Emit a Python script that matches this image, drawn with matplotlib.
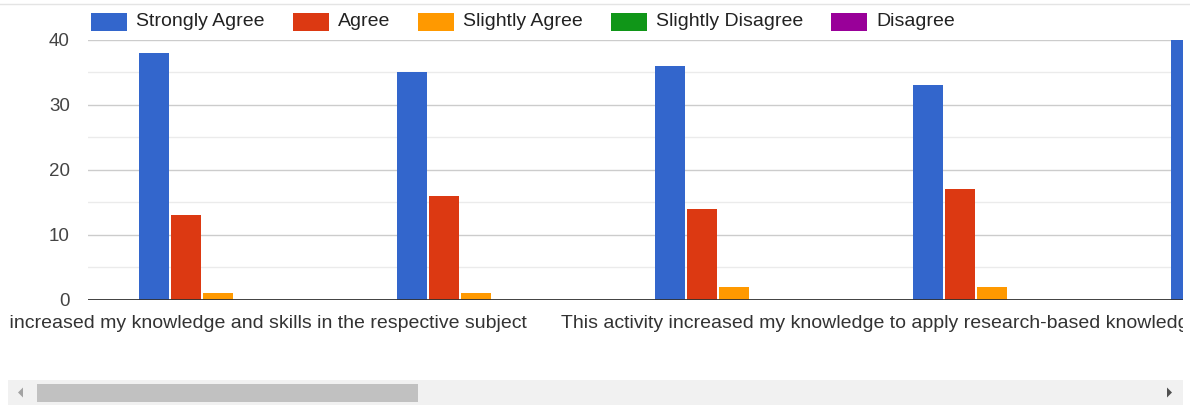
"""Survey responses per statement, grouped bar chart in a scrolled chart frame."""

import numpy as np
import matplotlib

matplotlib.use("Agg")
import matplotlib.pyplot as plt
from matplotlib.patches import Polygon, Rectangle
from matplotlib.transforms import Bbox, TransformedBbox

plt.rcParams["font.family"] = ["Liberation Sans", "DejaVu Sans"]

series = ["Strongly Agree", "Agree", "Slightly Agree", "Slightly Disagree", "Disagree"]
colors = ["#3366cc", "#dc3912", "#ff9900", "#109618", "#990099"]

# responses per statement (the fifth statement is mostly scrolled out of view)
strongly_agree = [38, 35, 36, 33, 40]
agree = [13, 16, 14, 17, np.nan]
slightly_agree = [1, 1, 2, 2, np.nan]
slightly_disagree = [0, 0, 0, 0, np.nan]
disagree = [0, 0, 0, 0, np.nan]
values = [strongly_agree, agree, slightly_agree, slightly_disagree, disagree]

statements = [
    "This activity increased my knowledge and skills in the respective subject",
    "",
    "This activity increased my knowledge to apply research-based knowledge in teaching",
    "",
    "",
]

W, H = 1190, 407
fig = plt.figure(figsize=(W / 100, H / 100), dpi=100)

# plot area in pixel terms
left, right, top, bottom = 88, 1183, 39.5, 299.5
ax = fig.add_axes([left / W, (H - bottom) / H, (right - left) / W, (bottom - top) / H])

step = 0.124
bar_w = 0.116
x = np.arange(len(strongly_agree))
for k, (vals, c) in enumerate(zip(values, colors)):
    ax.bar(x + (k - 2) * step, vals, width=bar_w, color=c, linewidth=0, zorder=2)

ax.set_xlim(-0.504, 3.740)
ax.set_ylim(0, 40)
ax.set_yticks([0, 10, 20, 30, 40])
ax.set_yticks([5, 15, 25, 35], minor=True)
ax.grid(axis="y", which="major", color="#cccccc", linewidth=1, zorder=0)
ax.grid(axis="y", which="minor", color="#ebebeb", linewidth=1, zorder=0)
ax.set_axisbelow(True)
ax.axhline(0, color="#333333", linewidth=1.3, zorder=3)
ax.set_xticks([])
ax.tick_params(axis="y", which="both", length=0, pad=13, labelsize=13.5, labelcolor="#444444")
for sp in ax.spines.values():
    sp.set_visible(False)

# overlay in pixel coordinates for legend, category labels and scrollbar
ov = fig.add_axes([0, 0, 1, 1])
ov.set_xlim(0, W)
ov.set_ylim(H, 0)
ov.axis("off")
ov.patch.set_visible(False)

ov.plot([0, W], [4, 4], color="#e4e4e4", linewidth=1)

# legend
renderer = fig.canvas.get_renderer()
lx = 91
for name, c in zip(series, colors):
    ov.add_patch(Rectangle((lx, 13), 36, 18, facecolor=c, edgecolor="none"))
    t = ov.text(lx + 45, 22, name, fontsize=14, color="#222222", va="center", ha="left")
    tw = t.get_window_extent(renderer).width
    lx += 45 + tw + 28

# category labels, clipped to the scrolling frame
clip = TransformedBbox(Bbox.from_extents(8, 0, right, H), fig.dpi_scale_trans.frozen().scale(0.01))
label_y = 323
t0 = ov.text(527, label_y, statements[0], fontsize=14, color="#333333", ha="right", va="center")
t2 = ov.text(561, label_y, statements[2], fontsize=14, color="#333333", ha="left", va="center")
for t in (t0, t2):
    t.set_clip_box(clip)
    t.set_clip_on(True)

# horizontal scrollbar
ov.add_patch(Rectangle((8, 380), right - 8, 25, facecolor="#f1f1f1", edgecolor="none"))
ov.add_patch(Rectangle((37, 383.5), 381, 18, facecolor="#c1c1c1", edgecolor="none"))
ov.add_patch(Polygon([[18, 392.5], [23, 387.5], [23, 397.5]], closed=True, facecolor="#a3a3a3", edgecolor="none"))
ov.add_patch(Polygon([[1172, 392.5], [1167, 387.5], [1167, 397.5]], closed=True, facecolor="#505050", edgecolor="none"))

fig.savefig("out.png", dpi=100, facecolor="white")
